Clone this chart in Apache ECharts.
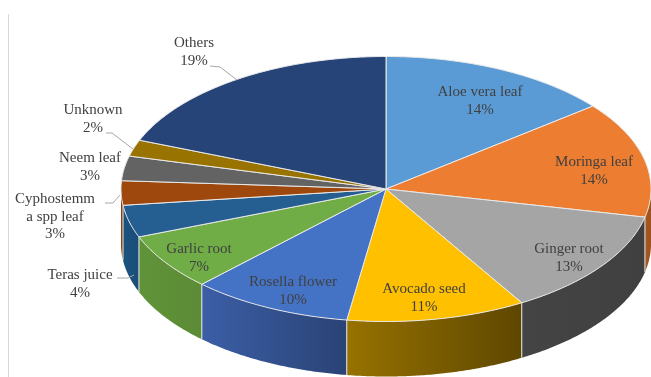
<!DOCTYPE html>
<html>
<head>
<meta charset="utf-8">
<style>html,body{margin:0;padding:0;background:#fff}#chart{width:651px;height:377px}</style>
<script src="https://cdn.jsdelivr.net/npm/echarts@6/dist/echarts.min.js"></script>
</head>
<body>
<div id="chart"></div>
<script>
// Plant material shares, clockwise from twelve o'clock
const categories = ['Aloe vera leaf', 'Moringa leaf', 'Ginger root', 'Avocado seed', 'Rosella flower',
  'Garlic root', 'Teras juice', 'Cyphostemma spp leaf', 'Neem leaf', 'Unknown', 'Others'];
const labelNames = ['Aloe vera leaf', 'Moringa leaf', 'Ginger root', 'Avocado seed', 'Rosella flower',
  'Garlic root', 'Teras juice', 'Cyphostemm\na spp leaf', 'Neem leaf', 'Unknown', 'Others'];
const shares = [14, 14, 13, 11, 10, 7, 4, 3, 3, 2, 19];

const topColors = ['#5b9bd5', '#ed7d31', '#a5a5a5', '#ffc000', '#4472c4', '#70ad47',
  '#255e91', '#9e480e', '#636363', '#997300', '#264478'];
// Wall shading runs left to right across each visible slice
const wallLeft = ['#3d6d99', '#a85822', '#444444', '#977200', '#3b5ea6', '#5f9339',
  '#1b5480', '#8a3f0c', '#555555', '#806000', '#1f3864'];
const wallRight = ['#3d6d99', '#9c5220', '#404040', '#5e4700', '#2a4375', '#5c8c36',
  '#1b4d78', '#8a3f0c', '#555555', '#806000', '#1f3864'];

// Tilted disc geometry, in pixels
const disc = { cx: 386, cy: 189, rx: 265, ry: 132.5, depth: 55 };

// Centre of each label block and the optional leader line
const labelCentres = [[480, 101], [594, 171], [569, 258], [424, 298], [293, 291], [199, 258],
  [80, 284], [55, 217], [90, 167], [93, 119], [194, 52]];
const leaders = {
  6: [[117, 278], [128, 278], [134, 275]],
  7: [[105, 203], [113, 203], [120, 195]],
  9: [[106, 133], [112, 133], [133, 149]],
  10: [[210, 66], [220, 67], [237, 80]]
};

const total = shares.reduce((a, b) => a + b, 0);
// Viewing the disc from the front stretches the nearer right-hand sweep slightly
const perspective = (deg) => deg < 270 ? deg + 1.6 * Math.sin(deg * 2 / 3 * Math.PI / 180) : deg;
const edgePoint = (deg, dy) => {
  const t = perspective(deg) * Math.PI / 180;
  return [disc.cx + disc.rx * Math.sin(t), disc.cy - disc.ry * Math.cos(t) + (dy || 0)];
};
const sliceRange = (i) => {
  const before = shares.slice(0, i).reduce((a, b) => a + b, 0);
  return [before / total * 360, (before + shares[i]) / total * 360];
};
const arc = (from, to, dy) => {
  const pts = [];
  const steps = Math.max(2, Math.ceil((to - from) * 2));
  for (let s = 0; s <= steps; s++) pts.push(edgePoint(from + (to - from) * s / steps, dy));
  return pts;
};

const edge = '#e9e9e9';
const seriesData = shares.map((v, i) => ({ name: categories[i], value: [i, v] }));

// Outer wall: only the front half of the rim
function renderWall(params, api) {
  const i = api.value(0);
  const [a, b] = sliceRange(i);
  const from = Math.max(a, 88.5), to = Math.min(b, 270);
  if (to <= from) return { type: 'group', children: [] };
  const pts = arc(from, to, 0).concat(arc(from, to, disc.depth).reverse());
  return {
    type: 'polygon',
    shape: { points: pts },
    style: {
      fill: new echarts.graphic.LinearGradient(0, 0, 1, 0, [
        { offset: 0, color: wallLeft[i] }, { offset: 1, color: wallRight[i] }
      ]),
      stroke: null
    }
  };
}

// Thin light seams where two wall panels meet
function renderSeam(params, api) {
  const [a] = sliceRange(api.value(0));
  if (a <= 90 || a >= 270) return { type: 'group', children: [] };
  const p = edgePoint(a, 0), q = edgePoint(a, disc.depth);
  return { type: 'line', shape: { x1: p[0], y1: p[1], x2: q[0], y2: q[1] },
    style: { stroke: edge, lineWidth: 1 } };
}

function renderTop(params, api) {
  const i = api.value(0);
  const [a, b] = sliceRange(i);
  return {
    type: 'polygon',
    shape: { points: [[disc.cx, disc.cy]].concat(arc(a, b, 0)) },
    style: { fill: topColors[i], stroke: edge, lineWidth: 1, lineJoin: 'round' }
  };
}

function renderLabel(params, api) {
  const i = api.value(0);
  const children = [{
    type: 'text',
    style: {
      x: labelCentres[i][0], y: labelCentres[i][1],
      text: labelNames[i] + '\n' + api.value(1) + '%',
      fill: '#404040', font: '15px "Liberation Serif"',
      align: 'center', verticalAlign: 'middle', lineHeight: 17.5
    }
  }];
  if (leaders[i]) {
    children.push({ type: 'polyline', shape: { points: leaders[i] },
      style: { stroke: '#a6a6a6', lineWidth: 1, fill: null } });
  }
  return { type: 'group', children };
}

const slot = (renderItem, z) => ({
  type: 'custom', coordinateSystem: 'none', renderItem, z, silent: true, animation: false,
  data: seriesData, encode: { value: 1 }, clip: false
});

const chart = echarts.init(document.getElementById('chart'), null, { renderer: 'canvas' });
chart.setOption({
  backgroundColor: '#fff',
  animation: false,
  graphic: [{
    type: 'line', silent: true, z: 0,
    shape: { x1: 8.5, y1: 14, x2: 8.5, y2: 377 },
    style: { stroke: '#d9d9d9', lineWidth: 1 }
  }],
  series: [slot(renderWall, 1), slot(renderSeam, 2), slot(renderTop, 3), slot(renderLabel, 4)]
});
</script>
</body>
</html>
